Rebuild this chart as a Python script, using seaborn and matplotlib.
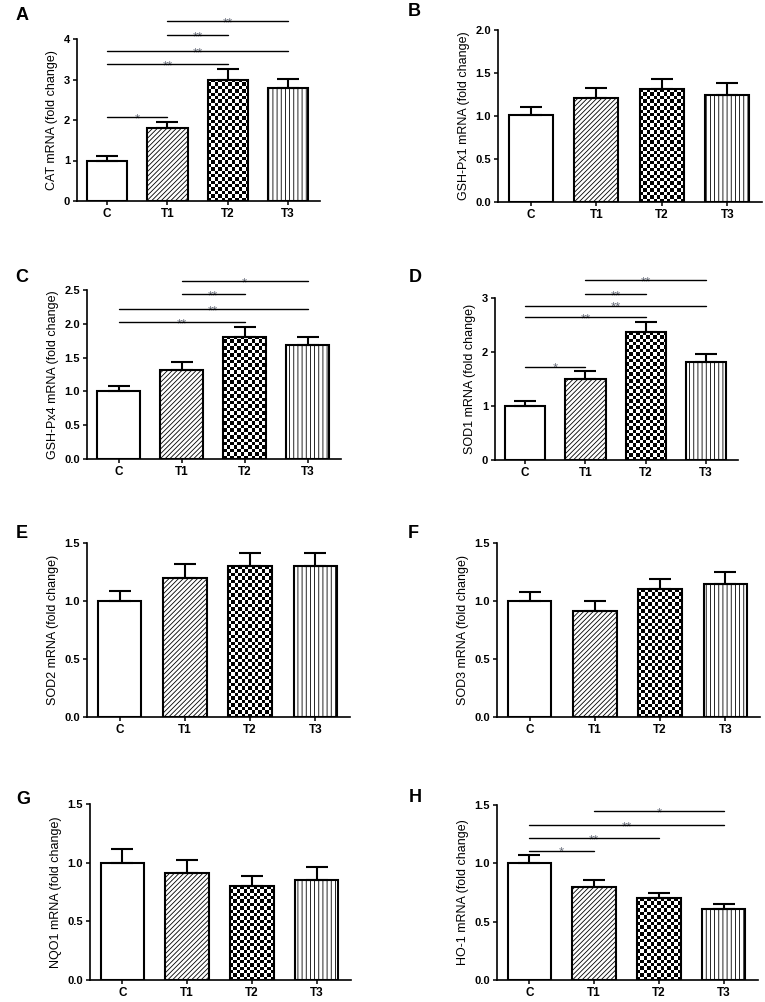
import matplotlib
matplotlib.use("Agg")
import matplotlib.pyplot as plt
import numpy as np
import pandas as pd
import seaborn as sns

groups = ["C", "T1", "T2", "T3"]

cat_mean = [1.00, 1.80, 3.00, 2.78]
cat_sem = [0.10, 0.16, 0.25, 0.24]
gpx1_mean = [1.01, 1.21, 1.31, 1.25]
gpx1_sem = [0.09, 0.11, 0.12, 0.13]
gpx4_mean = [1.01, 1.31, 1.81, 1.69]
gpx4_sem = [0.07, 0.12, 0.14, 0.11]
sod1_mean = [1.00, 1.50, 2.37, 1.81]
sod1_sem = [0.09, 0.15, 0.18, 0.16]
sod2_mean = [1.00, 1.20, 1.30, 1.30]
sod2_sem = [0.09, 0.12, 0.11, 0.11]
sod3_mean = [1.00, 0.91, 1.10, 1.15]
sod3_sem = [0.08, 0.09, 0.09, 0.10]
nqo1_mean = [1.00, 0.91, 0.80, 0.85]
nqo1_sem = [0.12, 0.11, 0.09, 0.11]
ho1_mean = [1.00, 0.80, 0.70, 0.61]
ho1_sem = [0.07, 0.06, 0.05, 0.04]

# significance bars: (from group, to group, height, stars)
cat_sig = [(0, 1, 2.08, "*"), (0, 2, 3.38, "**"), (0, 3, 3.71, "**"),
           (1, 2, 4.10, "**"), (1, 3, 4.44, "**")]
gpx4_sig = [(0, 2, 2.03, "**"), (0, 3, 2.22, "**"),
            (1, 2, 2.44, "**"), (1, 3, 2.63, "*")]
sod1_sig = [(0, 1, 1.73, "*"), (0, 2, 2.64, "**"), (0, 3, 2.86, "**"),
            (1, 2, 3.08, "**"), (1, 3, 3.33, "**")]
ho1_sig = [(0, 1, 1.11, "*"), (0, 2, 1.22, "**"), (0, 3, 1.33, "**"),
           (1, 3, 1.45, "*")]

W, H = 765, 1002

# letter, ylabel, means, sems, ymax, tick step, fmt, sig, box px (l, r, top, bottom), letter px
panels = [
    ("A", "CAT mRNA (fold change)", cat_mean, cat_sem, 4, 1, "%d", cat_sig,
     (77, 320, 39, 201), (22, 15)),
    ("B", "GSH-Px1 mRNA (fold change)", gpx1_mean, gpx1_sem, 2.0, 0.5, "%.1f", [],
     (498, 762, 30, 202), (414, 11)),
    ("C", "GSH-Px4 mRNA (fold change)", gpx4_mean, gpx4_sem, 2.5, 0.5, "%.1f", gpx4_sig,
     (87, 341, 290, 459), (22, 277)),
    ("D", "SOD1 mRNA (fold change)", sod1_mean, sod1_sem, 3, 1, "%d", sod1_sig,
     (495, 738, 298, 460), (415, 278)),
    ("E", "SOD2 mRNA (fold change)", sod2_mean, sod2_sem, 1.5, 0.5, "%.1f", [],
     (87, 350, 543, 717), (22, 533)),
    ("F", "SOD3 mRNA (fold change)", sod3_mean, sod3_sem, 1.5, 0.5, "%.1f", [],
     (497, 760, 543, 717), (413, 533)),
    ("G", "NQO1 mRNA (fold change)", nqo1_mean, nqo1_sem, 1.5, 0.5, "%.1f", [],
     (90, 351, 804, 980), (23, 800)),
    ("H", "HO-1 mRNA (fold change)", ho1_mean, ho1_sem, 1.5, 0.5, "%.1f", ho1_sig,
     (497, 758, 805, 980), (415, 798)),
]

sns.set_theme(style="ticks", rc={
    "text.color": "black",
    "axes.labelcolor": "black",
    "axes.edgecolor": "black",
    "xtick.color": "black",
    "ytick.color": "black",
})
plt.rcParams["font.family"] = ["Liberation Sans", "DejaVu Sans"]
plt.rcParams["hatch.linewidth"] = 0.6

fig = plt.figure(figsize=(W / 100, H / 100), dpi=100)


def checker_fill(ax, patch, square_px=3.4):
    """Fill a bar patch with a black/white checkerboard."""
    x0, y0 = patch.get_x(), patch.get_y()
    x1, y1 = x0 + patch.get_width(), y0 + patch.get_height()
    (px0, py0), (px1, py1) = ax.transData.transform([(x0, y0), (x1, y1)])
    nx = max(1, int(round(abs(px1 - px0) / square_px)))
    ny = max(1, int(round(abs(py1 - py0) / square_px)))
    grid = (np.add.outer(np.arange(ny), np.arange(nx)) % 2).astype(float)
    img = ax.imshow(grid, extent=(x0, x1, y0, y1), cmap="gray", aspect="auto",
                    interpolation="nearest", origin="lower", zorder=1.5)
    img.set_clip_path(patch)


for letter, ylabel, means, sems, ymax, step, fmt, sig, box, lpos in panels:
    l, r, t, b = box
    ax = fig.add_axes([l / W, 1 - b / H, (r - l) / W, (b - t) / H])

    df = pd.DataFrame({"group": groups, "value": means})
    sns.barplot(data=df, x="group", y="value", ax=ax, color="white",
                edgecolor="black", linewidth=1.5, width=0.67, errorbar=None,
                saturation=1)
    ax.set_xlim(-0.5, 3.53)
    ax.set_ylim(0, ymax)

    for i, patch in enumerate(ax.patches):
        patch.set_zorder(2)
        if i == 1:
            patch.set_hatch("///////")
        elif i == 2:
            patch.set_facecolor("none")
            checker_fill(ax, patch)
        elif i == 3:
            patch.set_hatch("||||")
    ax.set_xlim(-0.5, 3.53)
    ax.set_ylim(0, ymax)

    ax.errorbar(np.arange(len(groups)), means,
                yerr=[np.zeros(len(sems)), sems], fmt="none",
                ecolor="black", elinewidth=1.5, capsize=8, capthick=1.5,
                zorder=3)

    for g0, g1, y, stars in sig:
        ax.plot([g0, g1], [y, y], color="black", lw=1.0, clip_on=False,
                zorder=4)
        ax.annotate(stars, xy=((g0 + g1) / 2, y), xytext=(0, -3.8),
                    textcoords="offset points", ha="center", va="baseline",
                    fontsize=9.5, color="#6a6f7c", annotation_clip=False)

    ax.set_yticks(np.arange(0, ymax + step / 2, step))
    ax.yaxis.set_major_formatter(matplotlib.ticker.FormatStrFormatter(fmt))
    ax.set_xlabel("")
    ax.set_ylabel(ylabel, fontsize=9, labelpad=4)
    ax.tick_params(axis="both", length=3, width=1.1, pad=2)
    ax.tick_params(axis="x", labelsize=8.5)
    ax.tick_params(axis="y", labelsize=8)
    for lab in ax.get_xticklabels() + ax.get_yticklabels():
        lab.set_fontweight("bold")
    for side in ["left", "bottom"]:
        ax.spines[side].set_linewidth(1.2)
    sns.despine(ax=ax)

    fig.text(lpos[0] / W, 1 - lpos[1] / H, letter, fontsize=13,
             fontweight="bold", ha="center", va="center")

fig.savefig("out.png", dpi=100, facecolor="white")
